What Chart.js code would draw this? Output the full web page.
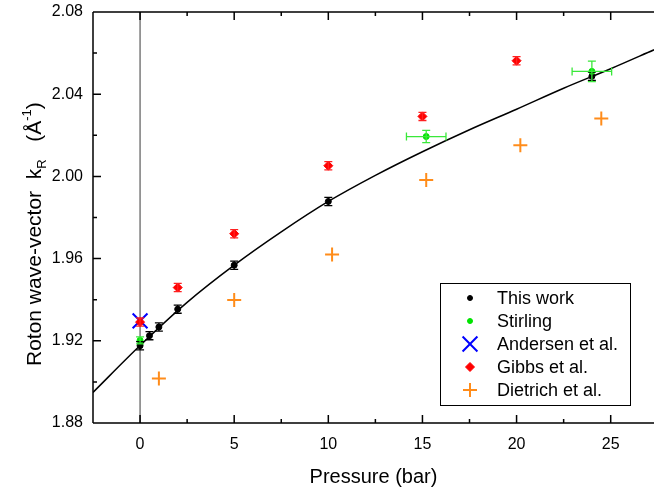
<!DOCTYPE html>
<html lang="en">
<head>
  <meta charset="UTF-8">
  <title>Roton wave-vector vs pressure</title>
  <style>
    html, body { margin: 0; padding: 0; background: #ffffff; }
    .chart-container { position: relative; width: 654px; height: 489px; }
  </style>
</head>
<body>
  <div class="chart-container">
    <canvas id="rotonChart" width="654" height="489"></canvas>
  </div>

  <script src="https://cdn.jsdelivr.net/npm/chart.js"></script>
  <script>
    const FONT = "'Liberation Sans', Arial, sans-serif";

    // axis ticks
    const xMajor = [0, 5, 10, 15, 20, 25];
    const xMinor = [2.5, 7.5, 12.5, 17.5, 22.5];
    const yMajor = [1.88, 1.92, 1.96, 2.00, 2.04, 2.08];
    const yMinor = [1.90, 1.94, 1.98, 2.02, 2.06];

    // This work
    const thisWorkP = [0, 0.5, 1, 2, 5, 10, 24];
    const thisWorkK = [1.9176, 1.9225, 1.9267, 1.9354, 1.9568, 1.9878, 2.0487];
    const thisWorkErr = [0.002, 0.002, 0.002, 0.002, 0.002, 0.002, 0.002];

    // Stirling
    const stirlingP = [0, 15.2, 24.0];
    const stirlingK = [1.9202, 2.0194, 2.0511];
    const stirlingErrP = [0, 1.05, 1.05];
    const stirlingErrK = [0.0017, 0.003, 0.005];

    // Andersen et al.
    const andersenP = [0];
    const andersenK = [1.9297];

    // Gibbs et al.
    const gibbsP = [0, 2, 5, 10, 15, 20];
    const gibbsK = [1.9291, 1.9459, 1.9721, 2.0052, 2.0292, 2.0563];
    const gibbsErr = [0.002, 0.002, 0.002, 0.002, 0.002, 0.002];

    // Dietrich et al.
    const dietrichP = [1.0, 5.0, 10.2, 15.2, 20.2, 24.5];
    const dietrichK = [1.9017, 1.9399, 1.9620, 1.9983, 2.0152, 2.0282];

    // fitted curve
    const fitP = [-2.5, 0, 2.5, 5, 7.5, 10, 12.5, 15, 17.5, 20, 22.5, 25, 27.3];
    const fitK = [1.8949, 1.9177, 1.9387, 1.9568, 1.9730, 1.9878, 2.0005, 2.0120, 2.0227, 2.0327, 2.0429, 2.0524, 2.0616];

    // vertical marker at zero pressure
    const zeroLineP = [0, 0];
    const zeroLineK = [1.88, 2.08];

    const pts = (xs, ys) => xs.map((x, i) => ({ x: x, y: ys[i] }));

    const errorBars = {
      id: 'errorBars',
      afterDatasetsDraw(chart) {
        const { ctx, scales: { x, y } } = chart;
        chart.data.datasets.forEach(ds => {
          if (!ds.errY && !ds.errX) return;
          ctx.save();
          ctx.strokeStyle = ds.errColor || ds.borderColor;
          ctx.lineWidth = 1.3;
          const cap = 4;
          ds.data.forEach((pt, i) => {
            const px = x.getPixelForValue(pt.x);
            const py = y.getPixelForValue(pt.y);
            const ey = ds.errY ? ds.errY[i] : 0;
            const ex = ds.errX ? ds.errX[i] : 0;
            ctx.beginPath();
            if (ey) {
              const y1 = y.getPixelForValue(pt.y + ey);
              const y2 = y.getPixelForValue(pt.y - ey);
              ctx.moveTo(px, y1); ctx.lineTo(px, y2);
              ctx.moveTo(px - cap, y1); ctx.lineTo(px + cap, y1);
              ctx.moveTo(px - cap, y2); ctx.lineTo(px + cap, y2);
            }
            if (ex) {
              const x1 = x.getPixelForValue(pt.x - ex);
              const x2 = x.getPixelForValue(pt.x + ex);
              ctx.moveTo(x1, py); ctx.lineTo(x2, py);
              ctx.moveTo(x1, py - cap); ctx.lineTo(x1, py + cap);
              ctx.moveTo(x2, py - cap); ctx.lineTo(x2, py + cap);
            }
            ctx.stroke();
          });
          ctx.restore();
        });
      }
    };

    // frame with inward ticks, axis titles and the boxed legend
    const frameAndLegend = {
      id: 'frameAndLegend',
      afterDraw(chart) {
        const { ctx, chartArea: a, scales: { x, y } } = chart;
        ctx.save();
        ctx.strokeStyle = '#000';
        ctx.lineWidth = 1.5;
        ctx.beginPath();
        ctx.moveTo(a.left, a.top); ctx.lineTo(a.right, a.top);
        ctx.moveTo(a.left, a.top); ctx.lineTo(a.left, a.bottom);
        ctx.moveTo(a.left, a.bottom); ctx.lineTo(a.right, a.bottom);
        const tick = (v, len) => {
          const px = x.getPixelForValue(v);
          ctx.moveTo(px, a.bottom); ctx.lineTo(px, a.bottom - len);
          ctx.moveTo(px, a.top); ctx.lineTo(px, a.top + len);
        };
        xMajor.forEach(v => tick(v, 8));
        xMinor.forEach(v => tick(v, 4));
        yMajor.forEach(v => { const py = y.getPixelForValue(v); ctx.moveTo(a.left, py); ctx.lineTo(a.left + 8, py); });
        yMinor.forEach(v => { const py = y.getPixelForValue(v); ctx.moveTo(a.left, py); ctx.lineTo(a.left + 4, py); });
        ctx.stroke();

        // x title
        ctx.fillStyle = '#000';
        ctx.font = '20px ' + FONT;
        ctx.textAlign = 'center';
        ctx.textBaseline = 'alphabetic';
        ctx.fillText('Pressure (bar)', (a.left + a.right) / 2, 483);

        // y title with subscript and superscript
        ctx.translate(41, 366);
        ctx.rotate(-Math.PI / 2);
        ctx.textAlign = 'left';
        const parts = [
          { t: 'Roton wave-vector  k', s: 21, dy: 0 },
          { t: 'R', s: 13, dy: 5 },
          { t: '   (Å', s: 21, dy: 0 },
          { t: '-1', s: 13, dy: -10 },
          { t: ')', s: 21, dy: 0 }
        ];
        let cx = 0;
        parts.forEach(p => {
          ctx.font = p.s + 'px ' + FONT;
          ctx.fillText(p.t, cx, p.dy);
          cx += ctx.measureText(p.t).width;
        });
        ctx.restore();

        // legend
        ctx.save();
        ctx.fillStyle = '#fff';
        ctx.fillRect(440, 283, 190, 122);
        ctx.strokeStyle = '#000';
        ctx.lineWidth = 1;
        ctx.strokeRect(440.5, 283.5, 190, 122);
        const items = chart.data.datasets.filter(d => d.legendText);
        items.forEach((d, i) => {
          const ly = 298 + i * 23;
          ctx.fillStyle = d.backgroundColor;
          ctx.strokeStyle = d.borderColor;
          ctx.lineWidth = d.pointBorderWidth || 1;
          Chart.helpers.drawPoint(ctx, {
            pointStyle: d.pointStyle,
            radius: d.legendRadius,
            rotation: 0,
            borderWidth: d.pointBorderWidth || 1
          }, 470, ly);
          ctx.fillStyle = '#000';
          ctx.font = '18px ' + FONT;
          ctx.textAlign = 'left';
          ctx.textBaseline = 'middle';
          ctx.fillText(d.legendText, 497, ly + 1);
        });
        ctx.restore();
      }
    };

    const datasets = [
      {
        label: 'This work', legendText: 'This work', order: 1,
        data: pts(thisWorkP, thisWorkK), errY: thisWorkErr, errColor: '#000',
        pointStyle: 'circle', pointRadius: 3, legendRadius: 2.5, pointBorderWidth: 1,
        backgroundColor: '#000', borderColor: '#000'
      },
      {
        label: 'Stirling', legendText: 'Stirling', order: 0,
        data: pts(stirlingP, stirlingK), errY: stirlingErrK, errX: stirlingErrP, errColor: '#3ae83a',
        pointStyle: 'circle', pointRadius: 3, legendRadius: 2.5, pointBorderWidth: 1,
        backgroundColor: '#00e400', borderColor: '#00e400'
      },
      {
        label: 'Andersen et al.', legendText: 'Andersen et al.', order: 2,
        data: pts(andersenP, andersenK),
        pointStyle: 'crossRot', pointRadius: 10.5, legendRadius: 10.5, pointBorderWidth: 2,
        backgroundColor: '#0000ff', borderColor: '#0000ff'
      },
      {
        label: 'Gibbs et al.', legendText: 'Gibbs et al.', order: -1,
        data: pts(gibbsP, gibbsK), errY: gibbsErr, errColor: '#ff2020',
        pointStyle: 'rectRot', pointRadius: 4.5, legendRadius: 4.5, pointBorderWidth: 1,
        backgroundColor: '#ff0000', borderColor: '#ff0000'
      },
      {
        label: 'Dietrich et al.', legendText: 'Dietrich et al.', order: 0,
        data: pts(dietrichP, dietrichK),
        pointStyle: 'cross', pointRadius: 7, legendRadius: 7, pointBorderWidth: 2,
        backgroundColor: '#ff8c1a', borderColor: '#ff8c1a'
      },
      {
        label: 'fit', order: 10,
        data: pts(fitP, fitK), showLine: true, pointRadius: 0,
        borderColor: '#000', borderWidth: 1.5, cubicInterpolationMode: 'monotone'
      },
      {
        label: 'zero', order: 11,
        data: pts(zeroLineP, zeroLineK), showLine: true, pointRadius: 0,
        borderColor: '#666', borderWidth: 1.3
      }
    ];

    const config = {
      type: 'scatter',
      data: { datasets: datasets },
      options: {
        responsive: false,
        animation: false,
        layout: { autoPadding: false, padding: { top: 12, right: 0, left: 0, bottom: 0 } },
        plugins: { legend: { display: false }, tooltip: { enabled: false } },
        scales: {
          x: {
            type: 'linear', min: -2.5, max: 27.3,
            grid: { display: false, drawTicks: false },
            border: { display: false },
            afterBuildTicks: s => { s.ticks = xMajor.map(v => ({ value: v })); },
            afterFit: s => { s.height = 66; s.paddingLeft = 0; s.paddingRight = 0; },
            ticks: { color: '#000', font: { size: 16, family: FONT }, padding: 12, maxRotation: 0, autoSkip: false }
          },
          y: {
            type: 'linear', min: 1.88, max: 2.08,
            grid: { display: false, drawTicks: false },
            border: { display: false },
            afterBuildTicks: s => { s.ticks = yMajor.map(v => ({ value: v })); },
            afterFit: s => { s.width = 93; s.paddingTop = 0; s.paddingBottom = 0; },
            ticks: { color: '#000', font: { size: 16, family: FONT }, padding: 10,
              callback: v => Number(v).toFixed(2) }
          }
        }
      },
      plugins: [errorBars, frameAndLegend]
    };

    new Chart(document.getElementById('rotonChart').getContext('2d'), config);
  </script>
</body>
</html>
